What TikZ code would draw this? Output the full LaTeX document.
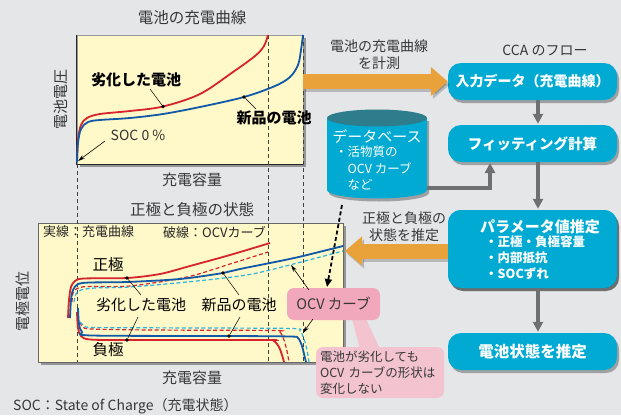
\documentclass[tikz,border=0pt]{standalone}
\usepackage{fontspec}
\setmainfont{Noto Sans CJK JP}
\usetikzlibrary{arrows.meta,shadows,calc}
\definecolor{bg}{RGB}{229,230,232}
\definecolor{panel}{RGB}{255,248,200}
\definecolor{flow}{RGB}{0,170,211}
\definecolor{dbtop}{RGB}{46,125,140}
\definecolor{orng}{RGB}{233,162,58}
\definecolor{cred}{RGB}{213,36,44}
\definecolor{cblue}{RGB}{16,88,168}
\definecolor{ccyan}{RGB}{40,180,225}
\definecolor{pinkA}{RGB}{242,168,188}
\definecolor{pinkB}{RGB}{243,196,207}
\definecolor{arrgray}{RGB}{110,111,114}
\definecolor{txt}{RGB}{55,55,55}
\newcommand\myfs[2]{\fontsize{#1pt}{#2pt}\selectfont}
\begin{document}
\begin{tikzpicture}[x=1pt,y=-1pt,
  every node/.style={inner sep=0pt},
  plain/.style={text=txt, font=\myfs{15}{18}},
  panelbox/.style={rectangle, fill=panel, draw=black!40, line width=0.4pt,
    drop shadow={shadow xshift=3pt, shadow yshift=-3pt, opacity=0.35, fill=black}},
  flowbox/.style={rectangle, rounded corners=13pt, fill=flow, text=white,
    minimum width=169pt, drop shadow={shadow xshift=2pt, shadow yshift=-3pt, opacity=0.3, fill=black}},
  vdash/.style={black!75, line width=0.6pt, dash pattern=on 4pt off 3pt},
  solidc/.style={line width=1.8pt},
  dashc/.style={line width=1.2pt, dash pattern=on 4pt off 2.5pt},
  dot/.style={circle, fill=black, minimum size=3.6pt},
  leader/.style={black, line width=0.5pt},
  thinarr/.style={black, line width=0.6pt, -{Stealth[length=7pt,width=4pt]}},
  orarr/.style={orng, line width=15pt, -{Triangle[width=28pt,length=17pt]}},
  orshadow/.style={black, opacity=0.2, line width=15pt, -{Triangle[width=28pt,length=17pt]}, transform canvas={shift={(2pt,-3pt)}}},
  grayarr/.style={arrgray, line width=4pt, -{Triangle[width=10pt,length=10pt]}},
  pinkbox/.style={rectangle, rounded corners=7pt, text=txt}
]
\useasboundingbox (0,0) rectangle (621,415);
\fill[bg] (0,0) rectangle (621,415);

% ---------- titles ----------
\node[plain, font=\myfs{15.5}{18}] (t1) at (192,18) {電池の充電曲線};
\node[plain, font=\myfs{15.5}{18}] (t2) at (192,210) {正極と負極の状態};
\node[plain, font=\myfs{14}{17}] (t3) at (545,50) {CCA のフロー};

% ---------- top panel ----------
\node[panelbox, minimum width=226pt, minimum height=129pt] (tpanel) at (190,99.5) {};
% ---------- bottom panel ----------
\node[panelbox, draw=black!60, minimum width=305pt, minimum height=139pt] (bpanel) at (190.5,292.5) {};
\draw[line width=1.3pt, black!85] (tpanel.north west) -- (tpanel.south west) -- (tpanel.south east);

% dashed verticals
\draw[vdash] (77,164) -- (77,362);
\draw[vdash] (268,35) -- (268,362);
\draw[vdash] (303,35) -- (303,362);

% axis labels
\node[plain, rotate=90] (ylab1) at (61,99) {電池電圧};
\node[plain] (xlab1) at (192,180) {充電容量};
\node[plain, rotate=90] (ylab2) at (23,301) {電極電位};
\node[plain] (xlab2) at (192,378) {充電容量};
\node[plain, font=\myfs{14}{17}, anchor=west] (socnote) at (13,406) {SOC：State of Charge（充電状態）};

% ---------- top curves ----------
\draw[cred, solidc] plot[smooth, tension=0.55] coordinates {(77,162) (78,140) (81,125) (87,118) (100,114) (130,111) (163,106.5) (200,94) (233,72) (255,56) (264,46) (268,35)};
\draw[cblue, solidc] plot[smooth, tension=0.55] coordinates {(77,162) (78,143) (81,129) (88,122) (100,120) (130,118) (163,114) (200,107) (244,97) (275,86) (290,77) (298,65) (301,50) (303,35)};

\node[font=\bfseries\myfs{15}{18}, text=black] (old1) at (136,80) {劣化した電池};
\node[font=\bfseries\myfs{15}{18}, text=black] (new1) at (274,118) {新品の電池};
\node[dot] (dO1) at (163,106.5) {};
\node[dot] (dN1) at (244,97) {};
\coordinate (lO1) at (150,89);
\coordinate (lN1) at (256,109);
\draw[leader] (lO1) -- (dO1);
\draw[leader] (lN1) -- (dN1);

\node[font=\myfs{14}{17}, text=black!80] (soc) at (138,135) {SOC 0 \%};
\coordinate (orig) at (78,161);
\coordinate (socS) at (105,141);
\draw[thinarr] (socS) -- (orig);

% ---------- bottom panel content ----------
\node[font=\myfs{13}{16}, text=black!85, anchor=west] (leg1) at (43,232) {実線：充電曲線};
\node[font=\myfs{13}{16}, text=black!85, anchor=west] (leg2) at (163,232) {破線：OCVカーブ};

% positive electrode
\draw[cred, dashc] plot[smooth, tension=0.5] coordinates {(72,302) (73,293) (77,288.5) (88,286.5) (130,286) (187,277) (230,264) (268,252)};
\draw[ccyan, dashc] plot[smooth, tension=0.5] coordinates {(74,302) (76,294) (81,290) (95,288) (130,287) (187,282) (240,276) (270,270) (343,251)};
\draw[cred, solidc] plot[smooth, tension=0.5] coordinates {(68,318) (69,300) (71,287) (75,281) (84,278.5) (127,278) (160,274) (190,266) (230,255) (270,243)};
\draw[cblue, solidc] plot[smooth, tension=0.5] coordinates {(70,318) (71,300) (73,290) (78,284) (90,282.5) (127,282) (180,279) (223,273) (240,269) (280,261) (303,256) (343,246)};

% negative electrode
\draw[cred, dashc] plot[smooth, tension=0.5] coordinates {(80,322) (83,327) (92,329) (150,330) (272,330.5) (280,332) (284,340) (287,351) (289,362)};
\draw[ccyan, dashc] plot[smooth, tension=0.5] coordinates {(80,322) (85,326) (96,327.5) (200,328) (292,328.5) (300,331) (304,339) (307,350) (309,362)};
\draw[cred, solidc] plot[smooth, tension=0.5] coordinates {(77,312) (78,328) (81,336) (90,339.5) (127,340) (265,340) (274,341) (279,347) (282,355) (284,362)};
\draw[cblue, solidc] plot[smooth, tension=0.5] coordinates {(78,308) (79,324) (82,332) (92,335.5) (229,336) (290,336.5) (298,338) (302,346) (304,354) (306,362)};

\node[font=\myfs{15.5}{18}, text=black] (pos) at (108,265) {正極};
\node[font=\myfs{15.5}{18}, text=black] (neg) at (108,350) {負極};
\node[font=\myfs{15}{18}, text=black] (old2) at (141,305) {劣化した電池};
\node[font=\myfs{15}{18}, text=black] (new2) at (239,305) {新品の電池};
\node[dot] (dO2) at (127,278) {};
\node[dot] (dO3) at (127,340) {};
\node[dot] (dN2) at (223,273) {};
\node[dot] (dN3) at (229,336) {};
\coordinate (lO2) at (141,295);
\coordinate (lO3) at (138,317);
\coordinate (lN2) at (239,295);
\coordinate (lN3) at (240,317);
\draw[leader] (lO2) -- (dO2);
\draw[leader] (lO3) -- (dO3);
\draw[leader] (lN2) -- (dN2);
\draw[leader] (lN3) -- (dN3);

% ---------- flow boxes ----------
\node[flowbox, minimum height=37pt, font=\bfseries\myfs{14}{17}] (box1) at (532.5,81.5) {入力データ（充電曲線）};
\node[flowbox, minimum height=37pt, font=\bfseries\myfs{14.5}{17}] (box2) at (532.5,143.5) {フィッティング計算};
\node[flowbox, minimum height=78pt] (box3) at (532.5,249) {};
\node[flowbox, minimum height=37pt, font=\bfseries\myfs{15.5}{18}] (box4) at (532.5,351.5) {電池状態を推定};
\node[text=white, font=\bfseries\myfs{15}{18}] (box3t) at (540,227) {パラメータ値推定};
\node[text=white, font=\bfseries\myfs{12.5}{16}, align=left, anchor=north west] (box3i) at (485,236) {・正極・負極容量\\・内部抵抗\\・SOCずれ};

% ---------- orange arrows ----------
\draw[orshadow] (tpanel.east |- box1.west) -- (box1.west);
\draw[orarr] (tpanel.east |- box1.west) -- (box1.west);
\node[plain, font=\myfs{14}{17}, align=center] (cap1) at (379,54.5) {電池の充電曲線\\を計測};
\coordinate (oa2s) at (452,251);
\coordinate (oa2e) at (345,251);
\draw[orshadow] (oa2s) -- (oa2e);
\draw[orarr] (oa2s) -- (oa2e);
\node[plain, font=\myfs{14}{17}, align=center] (cap2) at (404,227) {正極と負極の\\状態を推定};
% redraw box3 on top of the arrow start
\node[flowbox, minimum height=78pt] (box3b) at (532.5,249) {};
\node[text=white, font=\bfseries\myfs{15}{18}] (box3tb) at (540,227) {パラメータ値推定};
\node[text=white, font=\bfseries\myfs{12.5}{16}, align=left, anchor=north west] (box3ib) at (485,236) {・正極・負極容量\\・内部抵抗\\・SOCずれ};

% gray arrows
\draw[grayarr] ($(box1.south)+(5.5,0)$) -- ($(box2.north)+(5.5,-1)$);
\draw[grayarr] ($(box2.south)+(5.5,0)$) -- ($(box3.north)+(5.5,-1)$);
\draw[grayarr] ($(box3.south)+(5.5,0)$) -- ($(box4.north)+(5.5,-1)$);

% ---------- database ----------
\fill[flow, drop shadow={shadow xshift=2pt, shadow yshift=-3pt, opacity=0.3, fill=black}] (327,118) -- (327,190) arc[start angle=180, end angle=360, x radius=50pt, y radius=8.5pt] -- (427,118) -- cycle;
\fill[dbtop] (377,118) ellipse [x radius=50pt, y radius=8.5pt];
\node[minimum width=100pt, minimum height=90pt] (db) at (377,154) {};
\node[text=white, font=\myfs{15}{18}] (dbt) at (377,137) {データベース};
\node[text=white, font=\myfs{12.5}{16.5}, align=left, anchor=north west] (dbi) at (335,146) {・活物質の\\\hphantom{・}OCV カーブ\\\hphantom{・}など};
\coordinate (dbR) at (427,188);
\coordinate (fitIn) at (490,163);
\draw[grayarr] (dbR) -| (fitIn);

% dashed thick arrow from database
\coordinate (dbB) at (342,205);
\coordinate (ocvTgt) at (327,287);
\draw[black, line width=1.8pt, dash pattern=on 4pt off 2.5pt, -{Triangle[length=8pt,width=7pt]}] (dbB) -- (ocvTgt);

% ---------- pink callouts ----------
\fill[pinkB] (352,319) -- (366,319) -- (380,349) -- (360,349) -- cycle;
\node[pinkbox, fill=pinkA, minimum width=93pt, minimum height=32pt, font=\myfs{14.5}{17}] (ocv) at (333.5,304) {OCV カーブ};
\node[pinkbox, fill=pinkB, minimum width=128pt, minimum height=51pt, font=\myfs{12.5}{16}, align=left, text width=120pt] (note) at (380,372.5) {電池が劣化しても\\OCV カーブの形状は\\変化しない};
\coordinate (ocvP) at (291,265);
\coordinate (ocvN) at (303,333);
\draw[thinarr] ($(ocv.north west)+(22,2)$) -- (ocvP);
\draw[thinarr] ($(ocv.south west)+(26,-1)$) -- (ocvN);
\end{tikzpicture}
\end{document}
